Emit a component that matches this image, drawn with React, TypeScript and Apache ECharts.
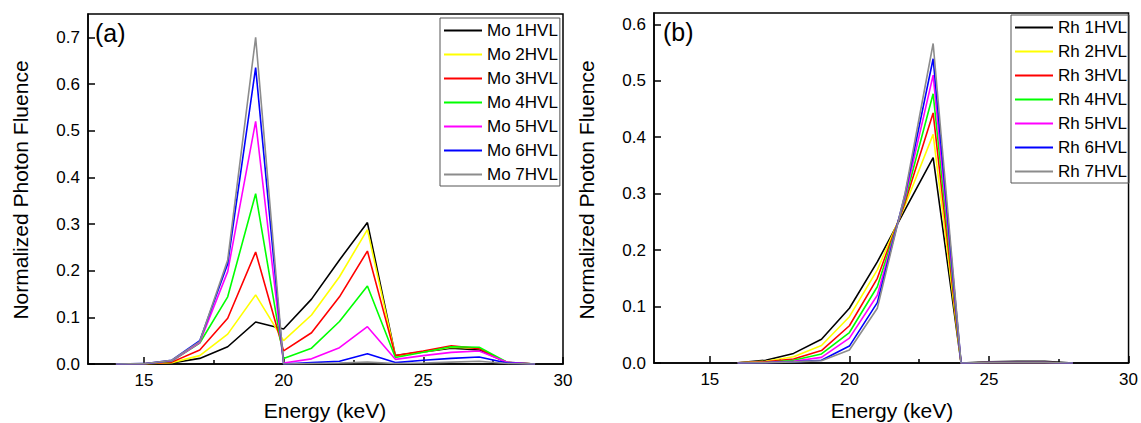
import React, { useEffect, useRef } from "react";
import * as echarts from "echarts";

const FONT = "'Liberation Sans', Arial, sans-serif";

const moEnergy = [14, 15, 16, 17, 18, 19, 20, 21, 22, 23, 24, 25, 26, 27, 28, 29];
const mo1 = [0, 0.0005, 0.002, 0.012, 0.037, 0.09, 0.075, 0.139, 0.223, 0.303, 0.018, 0.026, 0.034, 0.03, 0.003, 0];
const mo2 = [0, 0.0004, 0.003, 0.018, 0.064, 0.148, 0.05, 0.105, 0.187, 0.288, 0.017, 0.026, 0.036, 0.034, 0.003, 0];
const mo3 = [0, 0.0004, 0.004, 0.03, 0.098, 0.24, 0.028, 0.067, 0.144, 0.242, 0.018, 0.028, 0.039, 0.033, 0.003, 0];
const mo4 = [0, 0.0005, 0.006, 0.045, 0.144, 0.365, 0.012, 0.034, 0.091, 0.167, 0.014, 0.025, 0.037, 0.036, 0.004, 0];
const mo5 = [0, 0.0006, 0.007, 0.046, 0.198, 0.52, 0.002, 0.011, 0.035, 0.08, 0.01, 0.018, 0.025, 0.028, 0.004, 0];
const mo6 = [0, 0.0007, 0.008, 0.05, 0.215, 0.635, 0, 0.003, 0.006, 0.022, 0.003, 0.008, 0.012, 0.015, 0.002, 0];
const mo7 = [0, 0.0007, 0.008, 0.048, 0.223, 0.7, 0, 0.001, 0.002, 0.004, 0.001, 0.002, 0.004, 0.006, 0.001, 0];

const rhEnergy = [16, 17, 18, 19, 20, 21, 22, 23, 24, 25, 26, 27, 28];
const rh1 = [0.0005, 0.005, 0.017, 0.042, 0.097, 0.179, 0.272, 0.364, 0, 0.002, 0.003, 0.003, 0];
const rh2 = [0.0004, 0.003, 0.011, 0.031, 0.082, 0.165, 0.28, 0.405, 0, 0.001, 0.001, 0.001, 0];
const rh3 = [0.0003, 0.002, 0.007, 0.022, 0.066, 0.15, 0.285, 0.443, 0, 0.001, 0.001, 0.001, 0];
const rh4 = [0.0002, 0.001, 0.005, 0.016, 0.054, 0.135, 0.29, 0.477, 0, 0.001, 0.001, 0.001, 0];
const rh5 = [0.0002, 0.001, 0.003, 0.01, 0.044, 0.12, 0.295, 0.51, 0, 0.001, 0.001, 0.001, 0];
const rh6 = [0.0001, 0.0005, 0.002, 0.005, 0.03, 0.107, 0.3, 0.539, 0, 0.001, 0.001, 0.001, 0];
const rh7 = [0.0001, 0.0005, 0.002, 0.004, 0.023, 0.097, 0.302, 0.566, 0, 0.001, 0.001, 0.001, 0];

const moNames = ["Mo 1HVL", "Mo 2HVL", "Mo 3HVL", "Mo 4HVL", "Mo 5HVL", "Mo 6HVL", "Mo 7HVL"];
const rhNames = ["Rh 1HVL", "Rh 2HVL", "Rh 3HVL", "Rh 4HVL", "Rh 5HVL", "Rh 6HVL", "Rh 7HVL"];
const colors = ["#000000", "#ffff00", "#ff0000", "#00ff00", "#ff00ff", "#0000ff", "#8c8c8c"];

const xMajor = [15, 20, 25, 30];
const xMinor = [17.5, 22.5, 27.5];
const yTicksA = [0, 0.1, 0.2, 0.3, 0.4, 0.5, 0.6, 0.7];
const yTicksB = [0, 0.1, 0.2, 0.3, 0.4, 0.5, 0.6];

function mainX(gridIndex: number) {
  return {
    type: "value",
    gridIndex,
    min: 13,
    max: 30,
    position: "bottom",
    axisLine: { show: true, onZero: false, lineStyle: { color: "#000", width: 1.5 } },
    axisTick: { show: true, inside: true, length: 7, customValues: xMajor, lineStyle: { color: "#000", width: 1.5 } },
    axisLabel: { show: true, customValues: xMajor, margin: 8, fontSize: 17, fontFamily: FONT, color: "#000" },
    splitLine: { show: false },
  };
}
function minorX(gridIndex: number) {
  return {
    type: "value",
    gridIndex,
    min: 13,
    max: 30,
    position: "bottom",
    offset: 0,
    axisLine: { show: false },
    axisTick: { show: true, inside: true, length: 4, customValues: xMinor, lineStyle: { color: "#000", width: 1.5 } },
    axisLabel: { show: false },
    splitLine: { show: false },
  };
}
function yAx(gridIndex: number, max: number, ticks: number[]) {
  return {
    type: "value",
    gridIndex,
    min: 0,
    max,
    axisLine: { show: true, onZero: false, lineStyle: { color: "#000", width: 1.5 } },
    axisTick: { show: true, inside: true, length: 7, customValues: ticks, lineStyle: { color: "#000", width: 1.5 } },
    axisLabel: {
      show: true,
      customValues: ticks,
      margin: 8,
      fontSize: 17,
      fontFamily: FONT,
      color: "#000",
      formatter: (v: number) => v.toFixed(1),
    },
    splitLine: { show: false },
  };
}

function legendFor(names: string[], left: number, top: number) {
  return {
    data: names,
    orient: "vertical",
    left,
    top,
    itemWidth: 38,
    itemHeight: 14,
    itemGap: 7,
    padding: [4, 2, 3, 3],
    borderColor: "#555",
    borderWidth: 1,
    selectedMode: false,
    itemStyle: { opacity: 0 },
    lineStyle: { width: 2 },
    textStyle: { fontSize: 17, fontFamily: FONT, color: "#000" },
  };
}

export default function App() {
  const ref = useRef<HTMLDivElement>(null);
  useEffect(() => {
    if (!ref.current) return;
    const chart = echarts.init(ref.current, null, { renderer: "svg" });
    const moSets = [mo1, mo2, mo3, mo4, mo5, mo6, mo7];
    const rhSets = [rh1, rh2, rh3, rh4, rh5, rh6, rh7];
    const series: any[] = [];
    moSets.forEach((vals, i) => {
      series.push({
        name: moNames[i],
        type: "line",
        xAxisIndex: 0,
        yAxisIndex: 0,
        symbol: "none",
        data: moEnergy.map((e, j) => [e, vals[j]]),
        lineStyle: { color: colors[i], width: 1.6 },
        itemStyle: { color: colors[i] },
      });
    });
    rhSets.forEach((vals, i) => {
      series.push({
        name: rhNames[i],
        type: "line",
        xAxisIndex: 2,
        yAxisIndex: 1,
        symbol: "none",
        data: rhEnergy.map((e, j) => [e, vals[j]]),
        lineStyle: { color: colors[i], width: 1.6 },
        itemStyle: { color: colors[i] },
      });
    });
    const txt = (text: string, x: number, y: number, size: number, rot = 0, align = "center") => ({
      type: "text",
      x,
      y,
      rotation: rot,
      style: { text, fontSize: size, fontFamily: FONT, fill: "#000", align, verticalAlign: "middle" },
    });
    chart.setOption({
      animation: false,
      backgroundColor: "#fff",
      grid: [
        { left: 88, top: 14, width: 475, height: 350, show: true, borderColor: "#000", borderWidth: 1.5 },
        { left: 654, top: 13, width: 477, height: 350, show: true, borderColor: "#000", borderWidth: 1.5 },
      ],
      xAxis: [mainX(0), minorX(0), mainX(1), minorX(1)],
      yAxis: [yAx(0, 0.75, yTicksA), yAx(1, 0.62, yTicksB)],
      legend: [legendFor(moNames, 440, 18), legendFor(rhNames, 1011, 15)],
      series,
      graphic: [
        txt("(a)", 95, 33, 25, 0, "left"),
        txt("(b)", 663, 32, 25, 0, "left"),
        txt("Normalized Photon Fluence", 20, 190, 21, Math.PI / 2),
        txt("Normalized Photon Fluence", 586, 190, 21, Math.PI / 2),
        txt("Energy (keV)", 325, 410, 21),
        txt("Energy (keV)", 892, 410, 21),
      ],
    });
    return () => chart.dispose();
  }, []);
  return <div ref={ref} style={{ position: "fixed", left: 0, top: 0, width: 1141, height: 423 }} />;
}
